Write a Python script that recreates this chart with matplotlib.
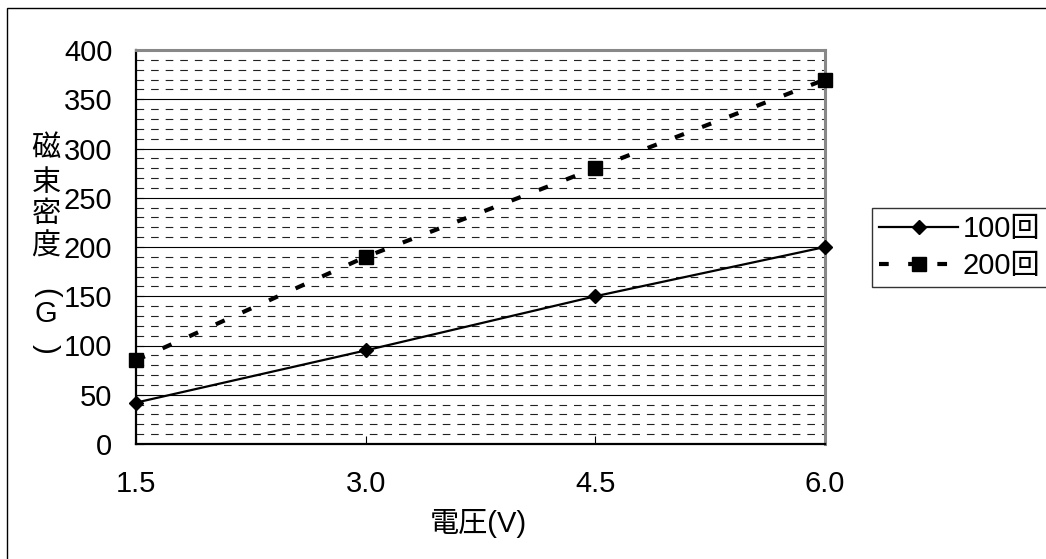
import matplotlib
matplotlib.use("Agg")
import matplotlib.pyplot as plt
from matplotlib.ticker import MultipleLocator, FixedLocator
from matplotlib.patches import Rectangle

plt.rcParams['font.family'] = ['Liberation Sans', 'Noto Sans CJK JP', 'DejaVu Sans']
plt.rcParams['lines.scale_dashes'] = False

voltage = [1.5, 3.0, 4.5, 6.0]
tick_labels = ["1.5", "3.0", "4.5", "6.0"]
turns_100 = [42, 95, 150, 200]
turns_200 = [85, 190, 280, 370]
series_names = ["100回", "200回"]

FS = 21
W, H = 1046, 559
fig = plt.figure(figsize=(W / 100, H / 100), dpi=100)
ax = fig.add_axes([136 / W, 1 - 444 / H, (825 - 136) / W, (444 - 50) / H])

# gridlines
ax.set_ylim(0, 400)
ax.set_xlim(1.5, 6.0)
ax.yaxis.set_major_locator(MultipleLocator(50))
ax.yaxis.set_minor_locator(MultipleLocator(10))
ax.grid(which='major', axis='y', color='black', linewidth=0.8, linestyle='-')
ax.grid(which='minor', axis='y', color='#222222', linewidth=0.8, linestyle=(0, (5.5, 5)))
ax.set_axisbelow(True)

ax.plot(voltage, turns_100, color='black', linewidth=1.6, marker='D', markersize=7.5,
        label=series_names[0], clip_on=False, zorder=3)
ax.plot(voltage, turns_200, color='black', linewidth=3.0, linestyle=(0, (7, 14)),
        marker='s', markersize=9.5, label=series_names[1], clip_on=False, zorder=3)

ax.xaxis.set_major_locator(FixedLocator(voltage))
ax.set_xticklabels(tick_labels)
ax.tick_params(axis='both', which='major', direction='in', length=6, width=0.8,
               labelsize=FS, color='black')
ax.tick_params(axis='y', which='minor', left=False)
ax.tick_params(axis='x', pad=19)
ax.tick_params(axis='y', pad=17)

for s in ['left', 'bottom']:
    ax.spines[s].set_color('black')
    ax.spines[s].set_linewidth(1.6)
for s in ['top', 'right']:
    ax.spines[s].set_color('#888888')
    ax.spines[s].set_linewidth(2.2)

# axis labels
fig.text(478 / W, 1 - 523 / H, "電圧(V)", fontsize=FS, ha='center', va='center')
ychars = [("磁", 148), ("束", 183), ("密", 214), ("度", 247)]
for ch, yy in ychars:
    fig.text(46 / W, 1 - yy / H, ch, fontsize=FS, ha='center', va='center',
             family=['Noto Sans CJK JP'])
fig.text(46 / W, 1 - 293 / H, "(", fontsize=FS, ha='center', va='center', rotation=-90,
         family=['Liberation Sans'])
fig.text(46 / W, 1 - 314 / H, "G", fontsize=FS, ha='center', va='center',
         family=['Liberation Sans'])
fig.text(46 / W, 1 - 349 / H, ")", fontsize=FS, ha='center', va='center', rotation=-90,
         family=['Liberation Sans'])

leg = fig.legend(loc='upper left', bbox_to_anchor=(872 / W, 1 - 208 / H), fontsize=FS,
                 frameon=True, fancybox=False, edgecolor='black', handlelength=2.7,
                 handletextpad=0.15, borderpad=0.25, labelspacing=0.3, borderaxespad=0)
leg.get_frame().set_linewidth(1.0)

# outer chart border
fig.patches.append(Rectangle((7 / W, -0.1), 1.2, 1 - 8 / H + 0.1, transform=fig.transFigure,
                             fill=False, edgecolor='black', linewidth=1.0))

fig.savefig("out.png", dpi=100)
